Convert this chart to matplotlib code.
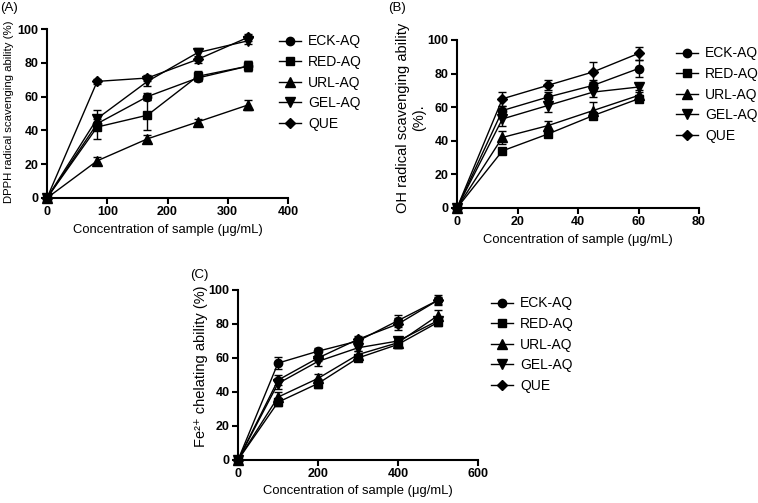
import matplotlib
matplotlib.use("Agg")
import matplotlib.pyplot as plt
import numpy as np

plt.rcParams['font.family'] = ['Liberation Sans', 'DejaVu Sans']

names = ["ECK-AQ", "RED-AQ", "URL-AQ", "GEL-AQ", "QUE"]
markers = ["o", "s", "^", "v", "D"]

# Panel A: DPPH
xA = [0, 83.3, 166.7, 250, 333.3]
A_ECK = [0, 44, 60, 71, 78]
A_RED = [0, 42, 49, 72, 78]
A_URL = [0, 22, 35, 45, 55]
A_GEL = [0, 47, 69, 86, 93]
A_QUE = [0, 69, 71, 82, 95]
eA_ECK = [0, 3, 2, 2, 3]
eA_RED = [0, 7, 9, 3, 3]
eA_URL = [0, 2, 2, 1.5, 3]
eA_GEL = [0, 5, 3, 3, 2]
eA_QUE = [0, 1.5, 1.5, 2, 2]

# Panel B: OH
xB = [0, 15, 30, 45, 60]
B_ECK = [0, 58, 66, 73, 83]
B_RED = [0, 34, 44, 55, 65]
B_URL = [0, 42, 49, 58, 67]
B_GEL = [0, 53, 61, 69, 72]
B_QUE = [0, 65, 73, 81, 92]
eB_ECK = [0, 3, 3, 3, 5]
eB_RED = [0, 2, 2, 2, 2]
eB_URL = [0, 4, 3, 5, 2]
eB_GEL = [0, 4, 4, 3, 2]
eB_QUE = [0, 4, 3, 6, 4]

# Panel C: Fe2+
xC = [0, 100, 200, 300, 400, 500]
C_ECK = [0, 57, 64, 70, 82, 94]
C_RED = [0, 34, 45, 60, 68, 81]
C_URL = [0, 37, 48, 62, 69, 85]
C_GEL = [0, 45, 58, 66, 70, 82]
C_QUE = [0, 47, 60, 71, 80, 94]
eC_ECK = [0, 3.5, 2, 2, 3.5, 3]
eC_RED = [0, 2.5, 2.5, 2, 2, 2]
eC_URL = [0, 3, 2.5, 2, 2, 3]
eC_GEL = [0, 3, 2.5, 2, 2, 2]
eC_QUE = [0, 3, 2, 2, 3.5, 2]

W, H = 758, 503
fig = plt.figure(figsize=(W / 100, H / 100), dpi=100)


def px_axes(l, t, r, b):
    return fig.add_axes([l / W, 1 - b / H, (r - l) / W, (b - t) / H])


def ftext(x, y, s, **kw):
    return fig.text(x / W, 1 - y / H, s, **kw)


def draw(ax, x, ys, es, xmax, xticks, leg_xy):
    for y, e, m, n in zip(ys, es, markers, names):
        ms = 6 if m in ("o", "s") else (5.5 if m == "D" else 6.5)
        ax.errorbar(x, y, yerr=e, color="black", marker=m, markersize=ms,
                    linewidth=1.0, elinewidth=1.0, capsize=3, capthick=1.0,
                    label=n, clip_on=False, zorder=3)
    ax.set_xlim(0, xmax)
    ax.set_ylim(0, 100)
    ax.set_xticks(xticks)
    ax.set_yticks([0, 20, 40, 60, 80, 100])
    for s in ("top", "right"):
        ax.spines[s].set_visible(False)
    for s in ("left", "bottom"):
        ax.spines[s].set_linewidth(1.5)
    ax.tick_params(direction="out", length=4, width=1.5, labelsize=9, pad=2)
    for lab in ax.get_xticklabels() + ax.get_yticklabels():
        lab.set_fontweight("bold")
    handles, labels = ax.get_legend_handles_labels()
    handles = [h[0] if isinstance(h, tuple) else h for h in handles]
    ax.legend(handles, labels, loc="upper left", bbox_to_anchor=(leg_xy[0] / W, 1 - leg_xy[1] / H),
              bbox_transform=fig.transFigure, frameon=False, fontsize=10,
              handlelength=1.6, handletextpad=0.5, labelspacing=0.47, borderaxespad=0, borderpad=0)


xlab = "Concentration of sample (\u03bcg/mL)"

axA = px_axes(47, 29, 288, 198)
draw(axA, xA, [A_ECK, A_RED, A_URL, A_GEL, A_QUE], [eA_ECK, eA_RED, eA_URL, eA_GEL, eA_QUE],
     400, [0, 100, 200, 300, 400], (279, 34.5))
ftext(167.5, 230, xlab, fontsize=9.4, ha="center", va="center")
ftext(9, 112, "DPPH radical scavenging ability (%)", fontsize=8.2, rotation=90,
      ha="center", va="center")

axB = px_axes(457, 40, 699, 208)
draw(axB, xB, [B_ECK, B_RED, B_URL, B_GEL, B_QUE], [eB_ECK, eB_RED, eB_URL, eB_GEL, eB_QUE],
     80, [0, 20, 40, 60, 80], (676, 46.5))
ftext(578, 240, xlab, fontsize=9.4, ha="center", va="center")
ftext(411, 118, "OH radical scavenging ability\n(%).", fontsize=10.5, rotation=90,
      ha="center", va="center", multialignment="center", linespacing=1.25)

axC = px_axes(238, 290, 478, 460)
draw(axC, xC, [C_ECK, C_RED, C_URL, C_GEL, C_QUE], [eC_ECK, eC_RED, eC_URL, eC_GEL, eC_QUE],
     600, [0, 200, 400, 600], (491, 296.5))
ftext(358, 491, xlab, fontsize=9.4, ha="center", va="center")
ftext(201.5, 366, "Fe\u00b2\u207a chelating ability (%)", fontsize=10.5, rotation=90,
      ha="center", va="center")

ftext(0, 2, "(A)", fontsize=9.5, va="top", ha="left")
ftext(388, 2, "(B)", fontsize=9.5, va="top", ha="left")
ftext(190, 269, "(C)", fontsize=9.5, va="top", ha="left")

fig.savefig("out.png", dpi=100)
